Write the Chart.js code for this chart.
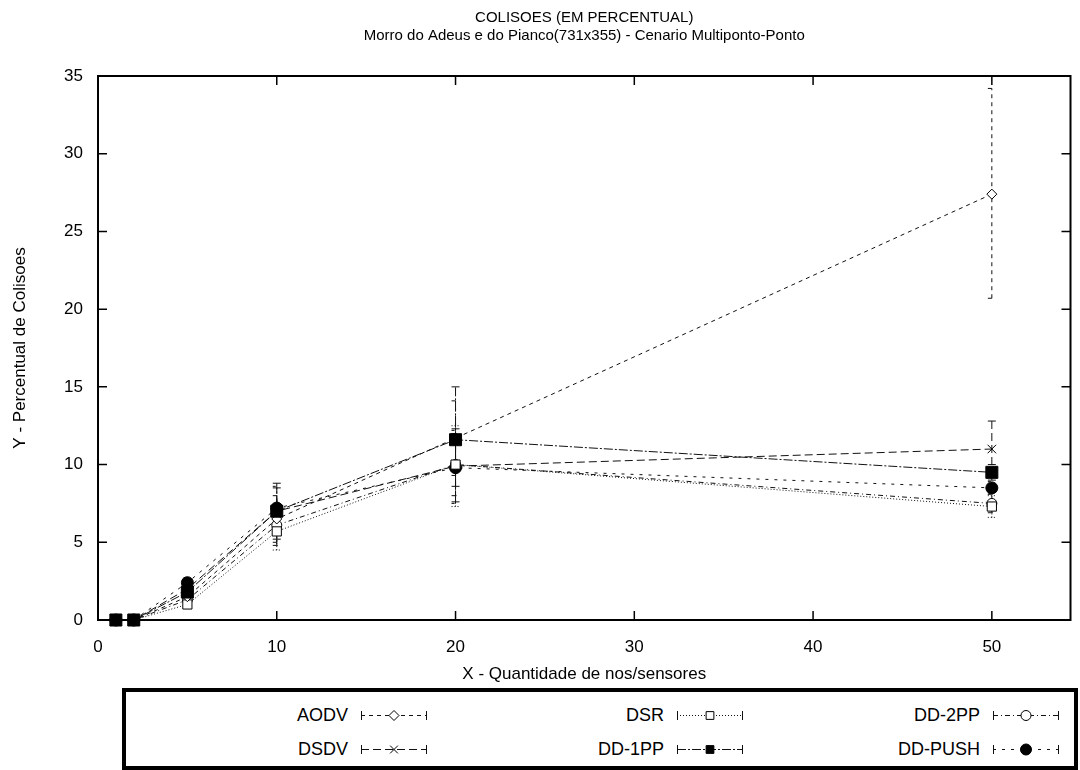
<!DOCTYPE html>
<html>
<head>
<meta charset="utf-8">
<script src="https://cdn.jsdelivr.net/npm/chart.js@4.4.0/dist/chart.umd.min.js"></script>
<style>
  body { margin: 0; background: #fff; font-family: "Liberation Sans", Arial, sans-serif; }
  #wrap { position: relative; width: 1080px; height: 770px; }
  #c { position: absolute; left: 0; top: 0; }
  #legend {
    position: absolute; left: 122px; top: 688px; width: 948px; height: 74px;
    border: 4px solid #000; display: grid; grid-template-columns: 316px 316px 316px;
    grid-template-rows: 34px 34px; padding-top: 6px; box-sizing: content-box; height: 68px;
  }
  .item { display: flex; justify-content: flex-end; align-items: center; padding-right: 14px;
    font-size: 18px; color: #000; }
  .item canvas { margin-left: 12px; }
</style>
</head>
<body>
<div id="wrap">
  <canvas id="c" width="1080" height="686"></canvas>
  <div id="legend"></div>
</div>
<script>
// valeurs
const xValues = [1, 2, 5, 10, 20, 50];
const xTicks  = [0, 10, 20, 30, 40, 50];

const aodv      = [0, 0, 1.5, 6.5, 11.7, 27.4];
const aodvLow   = [0, 0, 1.2, 5.0, 9.3, 20.7];
const aodvHigh  = [0, 0, 1.8, 8.0, 14.1, 34.2];

const dsdv      = [0, 0, 2.0, 7.0, 9.9, 11.0];
const dsdvLow   = [0, 0, 1.6, 5.2, 7.6, 9.2];
const dsdvHigh  = [0, 0, 2.4, 8.8, 12.3, 12.8];

const dsr       = [0, 0, 1.0, 5.7, 10.0, 7.3];
const dsrLow    = [0, 0, 0.8, 4.5, 7.3, 6.6];
const dsrHigh   = [0, 0, 1.3, 7.0, 12.5, 8.0];

const dd2pp     = [0, 0, 1.3, 6.1, 10.0, 7.5];
const dd2ppLow  = [0, 0, 1.0, 4.8, 8.0, 6.9];
const dd2ppHigh = [0, 0, 1.6, 7.4, 12.0, 8.1];

const dd1pp     = [0, 0, 1.8, 7.0, 11.6, 9.5];
const dd1ppLow  = [0, 0, 1.5, 5.5, 8.6, 9.0];
const dd1ppHigh = [0, 0, 2.1, 8.5, 15.0, 10.0];

const ddpush     = [0, 0, 2.4, 7.2, 9.8, 8.5];
const ddpushLow  = [0, 0, 2.1, 5.8, 7.5, 8.1];
const ddpushHigh = [0, 0, 2.7, 8.6, 12.2, 8.9];

const FONT = '"Liberation Sans", Arial, sans-serif';
const pts = arr => arr.map((v, i) => ({ x: xValues[i], y: v }));

// ordre de la legende : AODV, DSR, DD-2PP / DSDV, DD-1PP, DD-PUSH
const series = [
  { label: 'AODV',    data: aodv,   lo: aodvLow,   hi: aodvHigh,   dash: [4, 4],       style: 'rectRot',  r: 5, fill: '#fff' },
  { label: 'DSR',     data: dsr,    lo: dsrLow,    hi: dsrHigh,    dash: [1, 2],       style: 'rect',     r: 6.5, fill: '#fff' },
  { label: 'DD-2PP',  data: dd2pp,  lo: dd2ppLow,  hi: dd2ppHigh,  dash: [5, 3, 1, 3], style: 'circle',   r: 5, fill: '#fff' },
  { label: 'DSDV',    data: dsdv,   lo: dsdvLow,   hi: dsdvHigh,   dash: [8, 4],       style: 'crossRot', r: 6, fill: '#000' },
  { label: 'DD-1PP',  data: dd1pp,  lo: dd1ppLow,  hi: dd1ppHigh,  dash: [9, 2, 2, 2], style: 'rect',     r: 8.5, fill: '#000' },
  { label: 'DD-PUSH', data: ddpush, lo: ddpushLow, hi: ddpushHigh, dash: [3, 6],       style: 'circle',   r: 6, fill: '#000' }
];

// barres d'erreur + cadre style gnuplot
const gnuplotStyle = {
  id: 'gnuplotStyle',
  beforeDatasetsDraw(chart) {
    const { ctx, scales: { x, y } } = chart;
    series.forEach(s => {
      ctx.save();
      ctx.strokeStyle = '#111';
      ctx.lineWidth = 1;
      ctx.setLineDash(s.dash);
      xValues.forEach((xv, j) => {
        if (s.hi[j] - s.lo[j] <= 0) return;
        const px = x.getPixelForValue(xv);
        const p1 = y.getPixelForValue(s.lo[j]);
        const p2 = y.getPixelForValue(s.hi[j]);
        ctx.beginPath();
        ctx.moveTo(px, p1); ctx.lineTo(px, p2);
        ctx.moveTo(px - 4, p1); ctx.lineTo(px + 4, p1);
        ctx.moveTo(px - 4, p2); ctx.lineTo(px + 4, p2);
        ctx.stroke();
      });
      ctx.restore();
    });
  },
  afterDraw(chart) {
    const { ctx, chartArea: a, scales: { x, y } } = chart;
    ctx.save();
    ctx.strokeStyle = '#000';
    ctx.lineWidth = 2;
    ctx.strokeRect(a.left, a.top, a.right - a.left, a.bottom - a.top);
    ctx.lineWidth = 1.5;
    ctx.beginPath();
    xTicks.forEach(v => {
      const px = x.getPixelForValue(v);
      ctx.moveTo(px, a.bottom); ctx.lineTo(px, a.bottom - 9);
      ctx.moveTo(px, a.top); ctx.lineTo(px, a.top + 9);
    });
    y.ticks.forEach(t => {
      const py = y.getPixelForValue(t.value);
      ctx.moveTo(a.left, py); ctx.lineTo(a.left + 9, py);
      ctx.moveTo(a.right, py); ctx.lineTo(a.right - 9, py);
    });
    ctx.stroke();
    ctx.restore();
  }
};

const chart = new Chart(document.getElementById('c'), {
  type: 'line',
  data: {
    datasets: series.map(s => ({
      label: s.label,
      data: pts(s.data),
      borderColor: '#111',
      borderWidth: 1,
      borderDash: s.dash,
      pointStyle: s.style,
      pointRadius: s.r,
      pointBackgroundColor: s.fill,
      pointBorderColor: '#000',
      pointBorderWidth: 1,
      fill: false,
      tension: 0,
      clip: false,
      order: s.label === 'DD-1PP' ? 0 : 1
    }))
  },
  options: {
    responsive: false,
    animation: false,
    layout: { padding: { top: 0, right: 2, left: 0, bottom: 0 } },
    plugins: {
      legend: { display: false },
      tooltip: { enabled: false },
      title: {
        display: true,
        fullSize: false,
        text: ['COLISOES (EM PERCENTUAL)', 'Morro do Adeus e do Pianco(731x355) - Cenario Multiponto-Ponto'],
        color: '#000',
        font: { family: FONT, size: 15, weight: 'normal', lineHeight: 1.2 },
        padding: { top: 9, bottom: 31 }
      }
    },
    scales: {
      x: {
        type: 'linear', min: 0, max: 54.4,
        afterBuildTicks: s => { s.ticks = xTicks.map(v => ({ value: v })); },
        afterFit: s => { s.height = 66; },
        grid: { display: false, drawTicks: false },
        border: { display: false },
        ticks: { color: '#000', padding: 17, font: { family: FONT, size: 17 } },
        title: { display: true, text: 'X - Quantidade de nos/sensores', color: '#000',
                 font: { family: FONT, size: 17 }, padding: { top: 0, bottom: 1 } }
      },
      y: {
        min: 0, max: 35,
        afterFit: s => { s.width = 98; },
        grid: { display: false, drawTicks: false },
        border: { display: false },
        ticks: { stepSize: 5, color: '#000', padding: 15, font: { family: FONT, size: 17 } },
        title: { display: true, text: 'Y - Percentual de Colisoes', color: '#000',
                 font: { family: FONT, size: 17 }, padding: { top: 10, bottom: 0 } }
      }
    }
  },
  plugins: [gnuplotStyle]
});

// legende facon gnuplot : texte puis echantillon
const legend = document.getElementById('legend');
series.forEach(s => {
  const item = document.createElement('div');
  item.className = 'item';
  const txt = document.createElement('span');
  txt.textContent = s.label;
  const cv = document.createElement('canvas');
  cv.width = 68; cv.height = 16;
  const g = cv.getContext('2d');
  g.strokeStyle = '#111'; g.lineWidth = 1;
  g.setLineDash(s.dash);
  g.beginPath(); g.moveTo(1, 8.5); g.lineTo(67, 8.5); g.stroke();
  g.setLineDash([]);
  g.beginPath(); g.moveTo(1.5, 4); g.lineTo(1.5, 13); g.moveTo(66.5, 4); g.lineTo(66.5, 13); g.stroke();
  g.fillStyle = s.fill; g.strokeStyle = '#000';
  Chart.helpers.drawPoint(g, { pointStyle: s.style, radius: Math.min(s.r, 5.5), borderWidth: 1 }, 34, 8.5);
  item.appendChild(txt);
  item.appendChild(cv);
  legend.appendChild(item);
});
</script>
</body>
</html>
